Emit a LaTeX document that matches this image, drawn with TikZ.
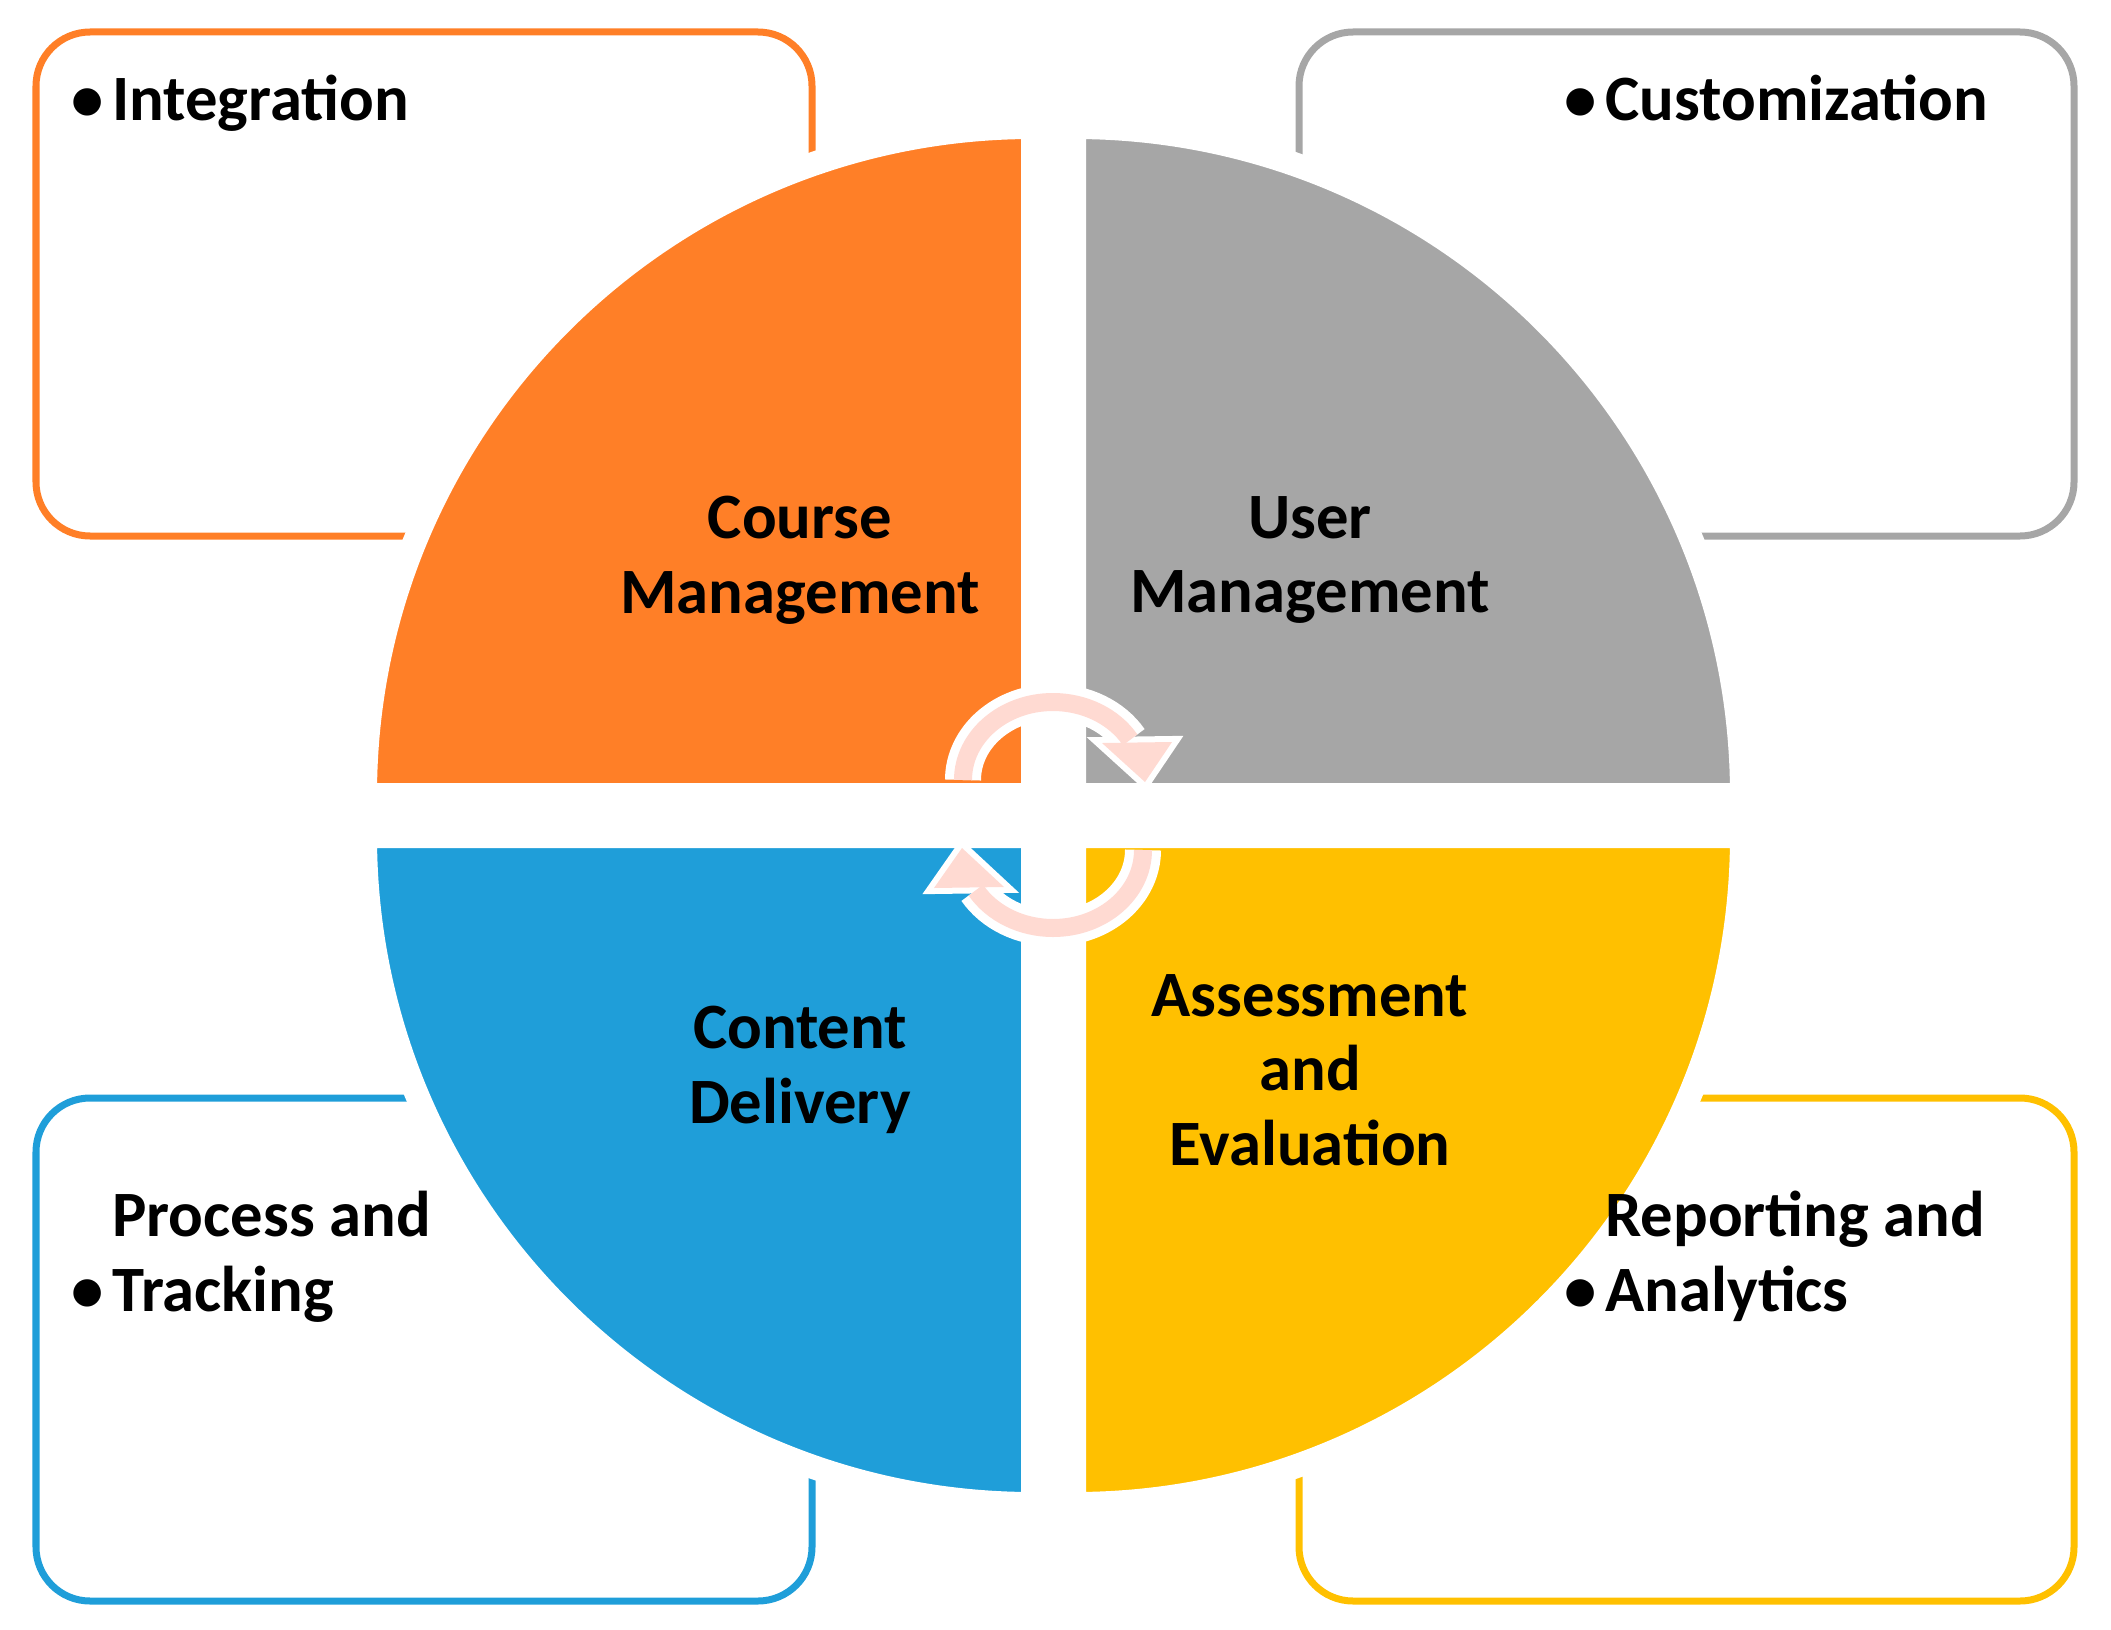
\documentclass[tikz,border=0pt]{standalone}
\usepackage{fontspec}
\setmainfont{Carlito}
\usetikzlibrary{positioning}
\definecolor{cmorange}{HTML}{FF7F27}
\definecolor{umgray}{HTML}{A6A6A6}
\definecolor{cdblue}{HTML}{1F9ED9}
\definecolor{aeyellow}{HTML}{FFC000}
\definecolor{cyclepink}{HTML}{FFDAD2}
\tikzset{
  infobox/.style={line width=7*0.25mm, rounded corners=1.35cm},
  quarter/.style={draw=white, line width=24*0.25mm},
  hub/.style={font=\bfseries\fontsize{46}{53}\selectfont, align=center},
  item/.style={font=\bfseries\fontsize{46}{53}\selectfont, align=left, inner sep=0pt},
  dot/.style={font=\bfseries\fontsize{46}{53}\selectfont, inner sep=0pt},
}
\begin{document}
\begin{tikzpicture}[x=0.025cm, y=-0.025cm]
  \useasboundingbox (0,0) rectangle (2111,1630);

  % outer boxes
  \draw[infobox, cmorange] (36,32) rectangle (812,536);
  \draw[infobox, umgray]   (1299,32) rectangle (2074,536);
  \draw[infobox, cdblue]   (36,1098) rectangle (812,1601);
  \draw[infobox, aeyellow] (1299,1098) rectangle (2074,1601);

  % quarter discs
  \filldraw[quarter, fill=cmorange] (1033,795) -- ++(-668,0) arc (180:270:668) -- cycle;
  \filldraw[quarter, fill=umgray]   (1074,795) -- ++(0,-668) arc (270:360:668) -- cycle;
  \filldraw[quarter, fill=cdblue]   (1033,836) -- ++(-668,0) arc (180:90:668) -- cycle;
  \filldraw[quarter, fill=aeyellow] (1074,836) -- ++(668,0) arc (0:90:668) -- cycle;

  % cycle arrows, white outline first
  \draw[white, line width=36*0.25mm] (963,780) arc (180:329:90 and 78);
  \draw[white, line width=36*0.25mm] (1143,850) arc (0:149:90 and 78);
  \filldraw[white, line width=12*0.25mm, line join=miter] (1145,782) -- (1102,743) -- (1172,742) -- cycle;
  \filldraw[white, line width=12*0.25mm, line join=miter] (962,848) -- (1004,887) -- (934,888) -- cycle;
  \draw[cyclepink, line width=18*0.25mm] (963,780) arc (180:329:90 and 78);
  \draw[cyclepink, line width=18*0.25mm] (1143,850) arc (0:149:90 and 78);
  \fill[cyclepink] (1145,782) -- (1102,743) -- (1172,742) -- cycle;
  \fill[cyclepink] (962,848) -- (1004,887) -- (934,888) -- cycle;

  % hub labels
  \node[hub] (course) at (800,560) {Course\\Management};
  \node[hub] (user) at (1310,560) {User\\Management};
  \node[hub] (content) at (800,1070) {Content\\Delivery};
  \node[hub] (assess) at (1310,1070) {Assessment\\and\\Evaluation};

  % box items
  \node[item, anchor=base west] (integ) at (112,121) {Integration};
  \node[dot, left=6pt of integ.base west, anchor=base east] (integdot) {•};
  \node[item, anchor=base west] (custom) at (1605,121) {Customization};
  \node[dot, left=6pt of custom.base west, anchor=base east] (customdot) {•};
  \node[item, anchor=base west] (process) at (112,1311) {Process and\\Tracking};
  \node[dot, left=6pt of process.base west, anchor=base east] (processdot) {•};
  \node[item, anchor=base west] (report) at (1605,1311) {Reporting and\\Analytics};
  \node[dot, left=6pt of report.base west, anchor=base east] (reportdot) {•};
\end{tikzpicture}
\end{document}
